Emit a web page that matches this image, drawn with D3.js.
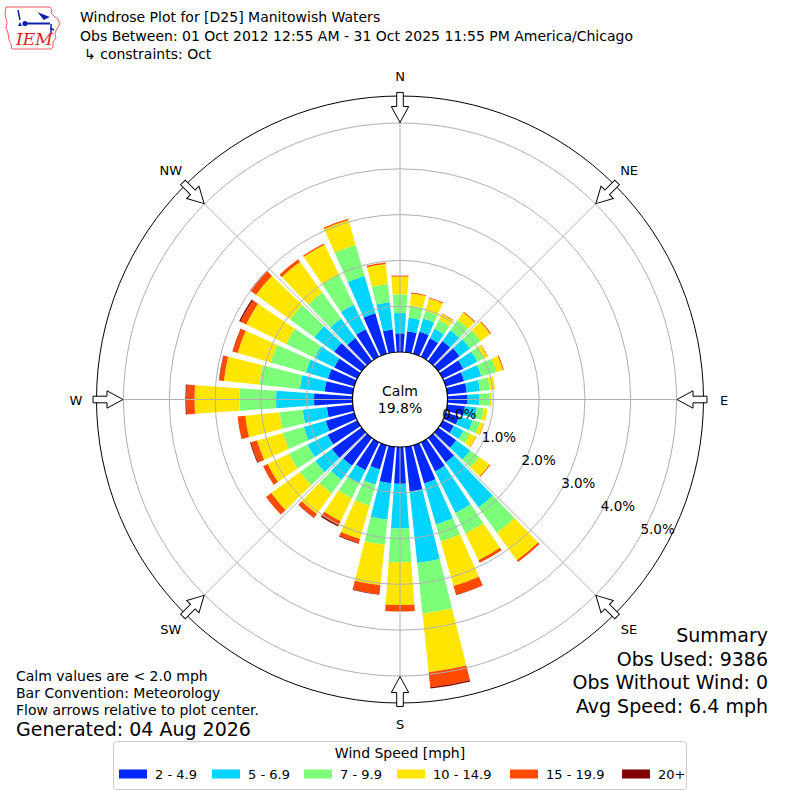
<!DOCTYPE html>
<html lang="en">
<head>
<meta charset="UTF-8">
<title>Windrose Plot for [D25] Manitowish Waters</title>
<script src="https://cdn.jsdelivr.net/npm/d3@7"></script>
<style>
  body { margin: 0; background: #fff; }
  svg text { font-family: "DejaVu Sans", sans-serif; fill: #000; }
</style>
</head>
<body>
<svg id="chart" width="800" height="800"></svg>
<script>
// direction bins (degrees the wind blows from)
const directions = d3.range(0, 360, 10);
const speedBins = ["2 - 4.9", "5 - 6.9", "7 - 9.9", "10 - 14.9", "15 - 19.9", "20+"];

// percent of all obs, one array per speed bin, same order as directions
const spd2to5   = [0.41,0.46,0.50,0.45,0.54,0.57,0.50,0.42,0.43,0.44,0.39,0.30,0.27,0.48,0.66,0.71,0.87,0.98,0.80,0.80,0.55,0.68,0.75,0.80,0.72,0.65,0.57,0.84,0.62,0.60,0.56,0.74,0.62,0.67,0.92,0.50];
const spd5to7   = [0.44,0.30,0.30,0.23,0.29,0.29,0.34,0.39,0.29,0.26,0.26,0.31,0.24,0.38,1.22,1.01,0.93,1.57,0.98,0.80,0.35,0.31,0.38,0.45,0.49,0.50,0.53,0.83,0.54,0.50,0.48,0.53,0.53,0.60,0.85,0.60];
const spd7to10  = [0.41,0.26,0.18,0.22,0.28,0.28,0.16,0.34,0.22,0.21,0.15,0.17,0.15,0.24,0.68,0.50,0.39,1.11,0.74,0.55,0.47,0.37,0.37,0.41,0.45,0.47,0.51,0.80,0.89,0.80,0.69,0.66,0.70,0.73,0.70,0.40];
const spd10to15 = [0.39,0.27,0.28,0.14,0.20,0.26,0.09,0.15,0.11,0.06,0.08,0.08,0.15,0.28,0.74,0.65,1.01,1.29,0.93,0.89,0.76,0.56,0.55,0.78,0.52,0.59,0.75,0.98,0.78,0.75,0.97,0.92,0.83,0.72,0.57,0.44];
const spd15to20 = [0.02,0.02,0.02,0.01,0.02,0.02,0.01,0.02,0.00,0.00,0.00,0.01,0.01,0.02,0.05,0.06,0.20,0.33,0.14,0.20,0.09,0.10,0.10,0.14,0.11,0.14,0.17,0.18,0.10,0.11,0.14,0.15,0.07,0.03,0.03,0.03];
const spd20plus = [0,0,0,0,0,0,0,0,0,0,0,0,0,0,0,0,0.01,0.03,0,0.01,0.02,0.03,0.01,0,0,0.02,0,0.02,0.01,0.01,0.03,0.01,0,0,0,0];

const calmPct = 19.8;
const ringTicks = [0, 1, 2, 3, 4, 5];
const compassNames = ["N", "NE", "E", "SE", "S", "SW", "W", "NW"];
const titleLines = [
  "Windrose Plot for [D25] Manitowish Waters",
  "Obs Between: 01 Oct 2012 12:55 AM - 31 Oct 2025 11:55 PM America/Chicago",
  "\u21b3 constraints: Oct"
];
const noteLines = ["Calm values are < 2.0 mph", "Bar Convention: Meteorology", "Flow arrows relative to plot center."];
const generatedText = "Generated: 04 Aug 2026";
const summaryLines = ["Summary", "Obs Used: 9386", "Obs Without Wind: 0", "Avg Speed: 6.4 mph"];

const colors = ["#0028ff", "#00d4ff", "#7cff79", "#ffe600", "#ff4a00", "#800000"];

// build the table d3.stack wants
const series = [spd2to5, spd5to7, spd7to10, spd10to15, spd15to20, spd20plus];
const table = directions.map((dir, i) => {
  const row = { dir: dir };
  speedBins.forEach((b, k) => row[b] = series[k][i]);
  return row;
});
const stacked = d3.stack().keys(speedBins)(table);

const svg = d3.select("#chart");
const cx = 400, cy = 399.5;
const calmR = 47.5, outerR = 303.5;

const r = d3.scaleLinear().domain([0, 5]).range([calmR, 276.5]);
const angle = d3.scaleLinear().domain([0, 360]).range([0, 2 * Math.PI]);
const halfW = angle(10) * 0.4;

const g = svg.append("g").attr("transform", `translate(${cx},${cy})`);

// bars
const arc = d3.arc();
stacked.forEach((layer, k) => {
  g.append("g").selectAll("path")
    .data(layer)
    .enter().append("path")
    .attr("d", d => arc({
      innerRadius: r(d[0]),
      outerRadius: r(d[1]),
      startAngle: angle(d.data.dir) - halfW,
      endAngle: angle(d.data.dir) + halfW
    }))
    .attr("fill", colors[k]);
});

// grid on top of the bars
g.selectAll(".ring")
  .data(ringTicks.slice(1))
  .enter().append("circle")
  .attr("r", d => r(d))
  .attr("fill", "none")
  .attr("stroke", "#b0b0b0")
  .attr("stroke-width", 1);

const spokes = d3.range(0, 360, 45);
g.selectAll(".spoke")
  .data(spokes)
  .enter().append("line")
  .attr("x1", d => calmR * Math.sin(angle(d)))
  .attr("y1", d => -calmR * Math.cos(angle(d)))
  .attr("x2", d => outerR * Math.sin(angle(d)))
  .attr("y2", d => -outerR * Math.cos(angle(d)))
  .attr("stroke", "#b0b0b0")
  .attr("stroke-width", 1);

// outer frame
g.append("circle").attr("r", outerR).attr("fill", "none").attr("stroke", "#000").attr("stroke-width", 1);

// calm circle
g.append("circle").attr("r", calmR).attr("fill", "#fff").attr("stroke", "#000").attr("stroke-width", 1.2);
g.append("text").attr("text-anchor", "middle").attr("y", -4).attr("font-size", 14).text("Calm");
g.append("text").attr("text-anchor", "middle").attr("y", 13).attr("font-size", 14).text(calmPct.toFixed(1) + "%");

// flow arrows, pointing at the centre
const arrowPts = [[0, -277], [8.7, -293], [3.3, -293], [3.3, -307], [-3.3, -307], [-3.3, -293], [-8.7, -293]];
g.selectAll(".arrow")
  .data(spokes)
  .enter().append("polygon")
  .attr("points", arrowPts.map(p => p.join(",")).join(" "))
  .attr("transform", d => `rotate(${d})`)
  .attr("fill", "#fff")
  .attr("stroke", "#000")
  .attr("stroke-width", 1);

// compass labels
g.selectAll(".compass")
  .data(compassNames)
  .enter().append("text")
  .attr("x", (d, i) => 324 * Math.sin(angle(i * 45)))
  .attr("y", (d, i) => -324 * Math.cos(angle(i * 45)) + 5)
  .attr("text-anchor", "middle")
  .attr("font-size", 13)
  .text(d => d);

// ring labels along the 120 degree line
const labA = angle(120);
g.selectAll(".rlab")
  .data(ringTicks)
  .enter().append("text")
  .attr("x", d => r(d) * Math.sin(labA) + 1)
  .attr("y", d => -r(d) * Math.cos(labA) - 4)
  .attr("font-size", 13.5)
  .text(d => d.toFixed(1) + "%");

// header
svg.selectAll(".title")
  .data(titleLines)
  .enter().append("text")
  .attr("x", (d, i) => i === 2 ? 84 : 80)
  .attr("y", (d, i) => 22 + i * 18.5)
  .attr("font-size", 14)
  .text(d => d);

// IEM logo
const logo = svg.append("g");
logo.append("path")
  .attr("d", "M6,7 L50,7 L52,10 L51,13 L55,17 L58,19 L60,24 L57,29 L55,33 L56,38 L53,42 L53,47 L51,49 L12,49 L11,44 L9,40 L8,33 L6,28 L7,22 L5,15 Z")
  .attr("fill", "none").attr("stroke", "#e33").attr("stroke-width", 0.8);
logo.append("path").attr("d", "M18,10 L20,20").attr("fill", "none").attr("stroke", "#12a").attr("stroke-width", 1.5);
logo.append("line").attr("x1", 24).attr("y1", 23.5).attr("x2", 50).attr("y2", 23.5).attr("stroke", "#12a").attr("stroke-width", 2);
logo.append("path").attr("d", "M40,14 L48,17 L44,19 Z").attr("fill", "#12a").attr("stroke", "#12a").attr("stroke-width", 1.5);
logo.append("path").attr("d", "M51,24 L51,33 M50,28 L54,30").attr("fill", "none").attr("stroke", "#12a").attr("stroke-width", 1.5);
logo.append("circle").attr("cx", 25).attr("cy", 23.5).attr("r", 2.6).attr("fill", "#12a");
logo.append("path").attr("d", "M18,26 L20,22 L22,26 Z").attr("fill", "#12a");
logo.append("text").attr("x", 16).attr("y", 45).attr("font-size", 17)
  .attr("font-style", "italic").style("font-family", "'DejaVu Serif', serif").style("fill", "#d22").text("IEM");

// notes, bottom left
svg.selectAll(".note")
  .data(noteLines)
  .enter().append("text")
  .attr("x", 16)
  .attr("y", (d, i) => 681 + i * 17)
  .attr("font-size", 14)
  .text(d => d);
svg.append("text").attr("x", 16).attr("y", 736).attr("font-size", 19).text(generatedText);

// summary, bottom right
svg.selectAll(".summary")
  .data(summaryLines)
  .enter().append("text")
  .attr("x", 768)
  .attr("y", (d, i) => 642 + i * 23.7)
  .attr("text-anchor", "end")
  .attr("font-size", 19)
  .text(d => d);

// legend
const leg = svg.append("g");
leg.append("rect").attr("x", 113.5).attr("y", 741.5).attr("width", 573).attr("height", 48)
  .attr("rx", 3).attr("fill", "#fff").attr("stroke", "#ccc");
leg.append("text").attr("x", 400).attr("y", 758).attr("text-anchor", "middle").attr("font-size", 14).text("Wind Speed [mph]");
const legX = [119, 212, 304, 397, 510, 622];
speedBins.forEach((b, k) => {
  leg.append("rect").attr("x", legX[k]).attr("y", 769.5).attr("width", 28).attr("height", 9).attr("fill", colors[k]);
  leg.append("text").attr("x", legX[k] + 36).attr("y", 778.5).attr("font-size", 13).text(b);
});
</script>
</body>
</html>
